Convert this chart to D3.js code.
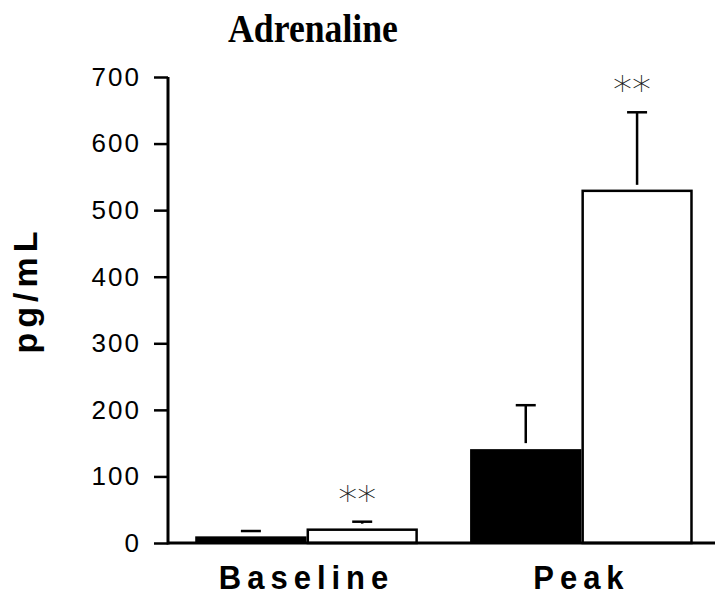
<!DOCTYPE html>
<html>
<head>
<meta charset="utf-8">
<script src="https://cdn.jsdelivr.net/npm/d3@7"></script>
<style>
  body { margin: 0; background: #fff; }
</style>
</head>
<body>
<svg id="chart" width="715" height="596"></svg>
<script>
// data
const groups = ['Baseline', 'Peak']
const series = ['filled', 'open']
const means = {
  Baseline: [10, 20],
  Peak: [141, 529],
}
const errors = {
  Baseline: [8, 12],
  Peak: [66, 118],
}
const stars = {
  Baseline: ['', '**'],
  Peak: ['', '**'],
}
const yTicks = [0, 100, 200, 300, 400, 500, 600, 700]

const width = 715
const height = 596
const margin = { top: 77, right: 0, bottom: 53, left: 168 }

const svg = d3.select('#chart')

// scales
const x = d3
  .scaleBand()
  .domain(groups)
  .range([margin.left, width - margin.right])
  .paddingInner(0.19)
  .paddingOuter(0.09)
  .align(0.55)

const xSub = d3.scaleBand().domain(series).range([0, x.bandwidth()])

const y = d3
  .scaleLinear()
  .domain([0, 700])
  .range([height - margin.bottom, margin.top])

// flatten
const bars = groups.flatMap((g) =>
  series.map((s, i) => ({
    group: g,
    series: s,
    value: means[g][i],
    err: errors[g][i],
    star: stars[g][i],
  }))
)

// title (slightly stretched vertically like the original)
svg
  .append('text')
  .attr('transform', 'translate(313, 42) scale(1.05, 1.15)')
  .attr('text-anchor', 'middle')
  .attr('font-family', '"Liberation Serif", "Times New Roman", serif')
  .attr('font-weight', 'bold')
  .attr('font-size', 34)
  .text('Adrenaline')

// y axis
const yAxis = svg
  .append('g')
  .attr('transform', `translate(${margin.left},0)`)
  .call(
    d3
      .axisLeft(y)
      .tickValues(yTicks)
      .tickSize(14)
      .tickPadding(13)
      .tickSizeOuter(0)
  )
yAxis.select('.domain').remove()
yAxis.selectAll('.tick line').attr('stroke', '#000').attr('stroke-width', 2.5)
yAxis
  .selectAll('.tick text')
  .attr('font-family', '"Liberation Sans", Arial, sans-serif')
  .attr('font-size', 26)
  .attr('letter-spacing', 2)
  .attr('fill', '#000')

// y label
svg
  .append('text')
  .attr('transform', 'translate(37, 290) rotate(-90)')
  .attr('text-anchor', 'middle')
  .attr('font-family', '"Liberation Sans", Arial, sans-serif')
  .attr('font-weight', 'bold')
  .attr('font-size', 34)
  .attr('letter-spacing', 5)
  .text('pg/mL')

// bars
const barG = svg.append('g').attr('id', 'bars')
barG
  .selectAll('rect')
  .data(bars)
  .join('rect')
  .attr('x', (d) => x(d.group) + xSub(d.series) + (d.series == 'open' ? 1.25 : 0))
  .attr('y', (d) => y(d.value))
  .attr('width', (d) => xSub.bandwidth() - (d.series == 'open' ? 2.5 : 0))
  .attr('height', (d) => y(0) - y(d.value))
  .attr('fill', (d) => (d.series == 'filled' ? '#000' : '#fff'))
  .attr('stroke', (d) => (d.series == 'filled' ? 'none' : '#000'))
  .attr('stroke-width', 2.5)

// error bars
const errG = svg
  .append('g')
  .attr('id', 'errors')
  .attr('stroke', '#000')
  .attr('stroke-width', 2.5)
  .selectAll('g')
  .data(bars)
  .join('g')
  .attr(
    'transform',
    (d) => `translate(${x(d.group) + xSub(d.series) + xSub.bandwidth() / 2},0)`
  )

errG
  .filter((d) => y(d.value) - 6 > y(d.value + d.err))
  .append('line')
  .attr('x1', 0)
  .attr('x2', 0)
  .attr('y1', (d) => y(d.value) - 6)
  .attr('y2', (d) => y(d.value + d.err))

errG
  .append('line')
  .attr('x1', -10)
  .attr('x2', 10)
  .attr('y1', (d) => y(d.value + d.err))
  .attr('y2', (d) => y(d.value + d.err))

// significance stars
svg
  .append('g')
  .attr('id', 'stars')
  .selectAll('text')
  .data(bars.filter((d) => d.star))
  .join('text')
  .attr('x', (d) => x(d.group) + xSub(d.series) + xSub.bandwidth() / 2 - 5)
  .attr('y', (d) => y(d.value + d.err) - 9)
  .attr('text-anchor', 'middle')
  .attr('font-family', '"DejaVu Sans", sans-serif')
  .attr('font-weight', 200)
  .attr('font-size', 38)
  .attr('fill', '#1a1a1a')
  .text((d) => d.star)

// axis lines
svg
  .append('line')
  .attr('x1', margin.left)
  .attr('x2', margin.left)
  .attr('y1', y(700))
  .attr('y2', y(0) + 1.5)
  .attr('stroke', '#000')
  .attr('stroke-width', 3)

svg
  .append('line')
  .attr('x1', margin.left)
  .attr('x2', width)
  .attr('y1', y(0))
  .attr('y2', y(0))
  .attr('stroke', '#000')
  .attr('stroke-width', 3)

// x labels
svg
  .append('g')
  .selectAll('text')
  .data(groups)
  .join('text')
  .attr('transform', (d) => `translate(${x(d) + x.bandwidth() / 2}, 589) scale(1, 1.08)`)
  .attr('text-anchor', 'middle')
  .attr('font-family', '"Liberation Sans", Arial, sans-serif')
  .attr('font-weight', 'bold')
  .attr('font-size', 31)
  .attr('letter-spacing', 6)
  .text((d) => d)
</script>
</body>
</html>
